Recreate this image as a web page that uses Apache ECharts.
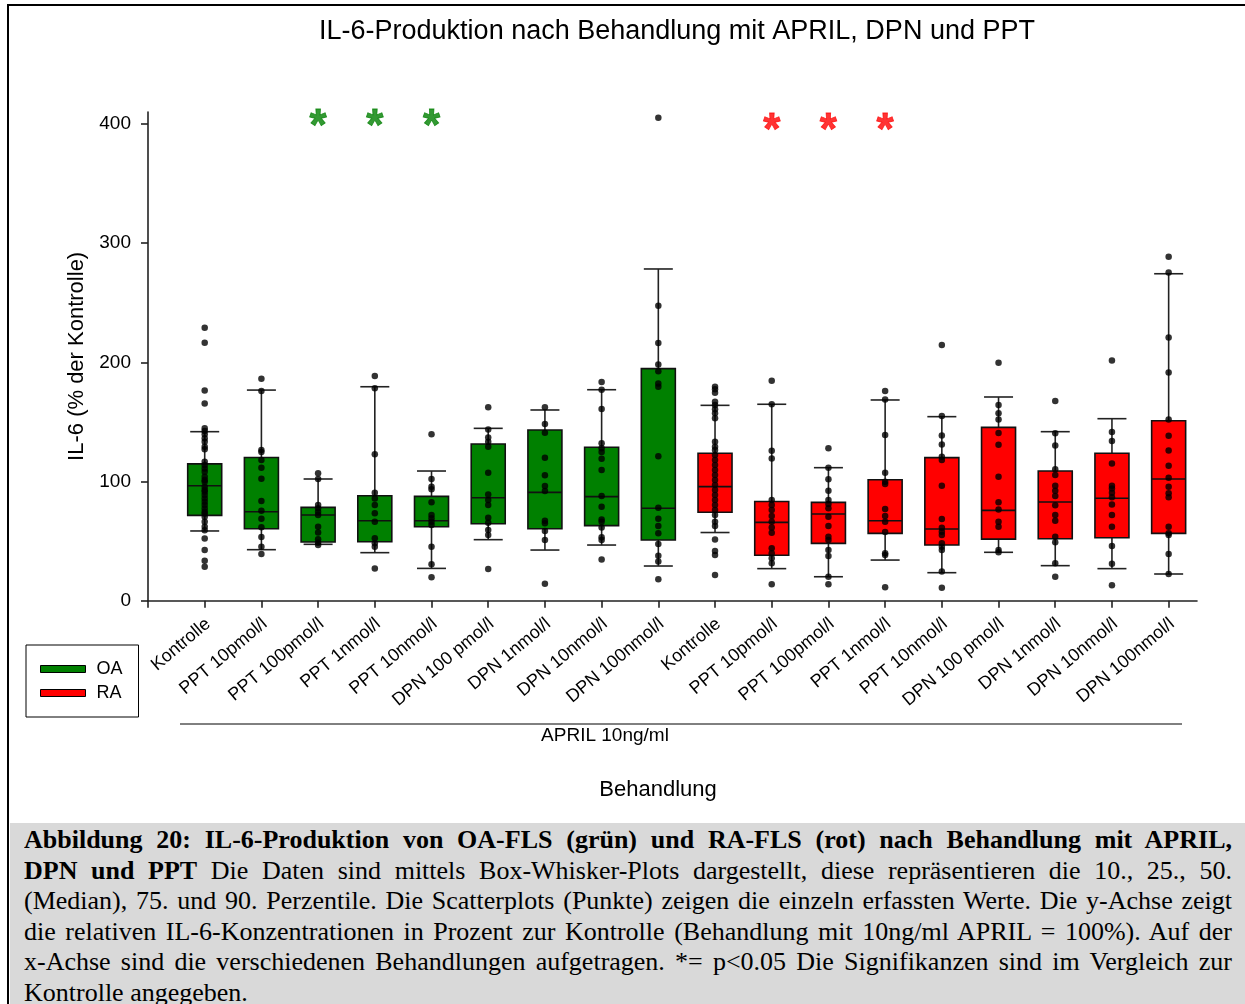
<!DOCTYPE html>
<html>
<head>
<meta charset="utf-8">
<script src="https://cdn.jsdelivr.net/npm/echarts@6/dist/echarts.min.js"></script>
<style>
  html, body { margin: 0; padding: 0; background: #fff; }
  #page { position: relative; width: 1245px; height: 1004px; overflow: hidden; }
  #chart { position: absolute; left: 0; top: 0; width: 1245px; height: 823px; }
  #frame { position: absolute; left: 7px; top: 4px; right: -20px; bottom: -20px;
           border-left: 2.5px solid #000; border-top: 2.5px solid #000; pointer-events: none; }
  #caption { position: absolute; left: 9.5px; top: 823px; width: 1236px; height: 181px; background: #d9d9d9; }
  .cl { position: absolute; left: 14.5px; font-family: "Liberation Serif", "Times New Roman", serif;
        font-size: 25px; line-height: 30px; color: #000; white-space: nowrap;
        text-align: justify; text-align-last: justify; transform-origin: 0 0; }
  .cl.last { text-align-last: left; }
</style>
</head>
<body>
<div id="page">
  <div id="chart"></div>
  <div id="caption"></div>
  <div id="frame"></div>
</div>
<script>
// Treatment groups (same sequence for OA and RA)
const groupLabels = ['Kontrolle', 'PPT 10pmol/l', 'PPT 100pmol/l', 'PPT 1nmol/l', 'PPT 10nmol/l',
                     'DPN 100 pmol/l', 'DPN 1nmol/l', 'DPN 10nmol/l', 'DPN 100nmol/l'];
const categories = groupLabels.concat(groupLabels);

// Box statistics per group: [10th, 25th, median, 75th, 90th percentile]
const oaStats = [
  [58.5, 71.6, 96.5, 114.8, 141.8],
  [42.8, 60.4, 74.6, 120.2, 176.7],
  [47.3, 49.2, 71.9, 78.3, 102.1],
  [40.3, 49.5, 67.1, 88.1, 179.5],
  [27.1, 62.1, 67.1, 87.5, 108.8],
  [51.2, 64.6, 86.4, 131.5, 144.6],
  [42.5, 60.4, 90.9, 143.2, 160.0],
  [46.7, 63.0, 87.3, 128.7, 177.0],
  [29.1, 50.9, 77.5, 194.7, 278.3]
];
const raStats = [
  [57.2, 74.2, 95.7, 123.7, 163.9],
  [26.9, 38.1, 65.7, 83.2, 164.8],
  [20.1, 48.1, 72.7, 82.5, 111.6],
  [34.1, 56.5, 67.1, 101.5, 168.4],
  [23.5, 46.7, 60.2, 120.0, 154.4],
  [40.6, 51.7, 75.8, 145.4, 170.9],
  [29.4, 52.0, 82.8, 108.8, 141.8],
  [26.9, 52.8, 85.9, 123.7, 152.7],
  [22.4, 56.5, 102.1, 151.0, 274.3]
];

// Individual measurements per group
const oaPoints = [
  [229.0, 216.4, 176.4, 165.5, 144.6, 142.4, 139.6, 136.2, 133.4, 129.2, 127.0, 116.6, 113.8, 111.0, 108.2,
   104.0, 101.2, 99.8, 95.6, 92.8, 91.4, 88.6, 85.8, 83.0, 80.2, 77.4, 74.6, 73.2, 70.4, 66.2, 62.0, 59.2,
   52.2, 42.5, 33.6, 28.5],
  [186.3, 175.9, 126.4, 124.7, 118.0, 111.6, 102.4, 83.6, 75.5, 68.8, 61.6, 53.5, 45.3, 39.2],
  [106.9, 102.1, 80.3, 77.5, 74.7, 71.9, 62.1, 57.3, 51.5, 48.7, 46.7],
  [188.5, 178.2, 122.8, 90.6, 85.8, 80.3, 73.3, 66.3, 52.3, 48.1, 45.3, 27.1],
  [139.6, 102.1, 95.7, 93.4, 82.5, 71.9, 69.1, 66.3, 63.5, 45.3, 30.5, 19.6],
  [162.2, 143.7, 137.0, 133.4, 129.2, 107.4, 89.2, 84.5, 80.3, 69.6, 65.4, 59.3, 55.1, 26.6],
  [162.2, 148.2, 140.9, 120.0, 105.2, 96.2, 92.0, 67.1, 64.9, 58.5, 51.0, 14.3],
  [183.4, 177.0, 160.8, 132.0, 127.8, 124.7, 119.1, 109.6, 87.8, 78.9, 68.2, 66.3, 61.5, 53.2, 51.0, 34.5],
  [405.2, 247.5, 216.2, 198.2, 192.4, 182.3, 179.5, 121.1, 78.0, 68.8, 62.7, 56.5, 47.6, 37.8, 32.8, 18.0]
];
const raPoints = [
  [179.6, 177.3, 174.5, 167.0, 164.2, 160.6, 157.2, 153.0, 133.4, 129.2, 126.4, 122.2, 118.0, 113.8, 109.6,
   105.4, 101.2, 97.0, 92.8, 88.6, 84.4, 80.2, 76.0, 71.8, 66.3, 62.6, 51.4, 41.6, 38.3, 21.5],
  [184.6, 164.8, 125.9, 119.2, 84.5, 80.3, 76.1, 71.0, 66.3, 61.5, 57.1, 44.0, 39.8, 35.6, 31.4, 13.8],
  [127.9, 111.6, 101.8, 92.3, 84.5, 81.1, 77.5, 70.5, 62.7, 53.7, 51.0, 42.6, 37.5, 20.1, 13.8],
  [175.9, 168.9, 139.0, 107.4, 99.8, 97.9, 76.9, 71.0, 66.3, 57.6, 39.8, 38.4, 11.2],
  [214.5, 154.9, 138.7, 131.1, 120.8, 118.0, 96.4, 68.5, 61.3, 57.9, 55.1, 48.1, 45.3, 42.5, 24.4, 10.9],
  [199.6, 164.1, 157.2, 152.1, 140.7, 130.9, 104.0, 82.5, 76.6, 66.3, 62.1, 42.5, 40.6],
  [167.5, 140.4, 130.3, 110.2, 105.4, 96.5, 92.3, 87.8, 80.0, 71.9, 67.1, 53.7, 49.0, 31.4, 20.1],
  [201.6, 141.5, 133.9, 115.2, 96.5, 94.2, 90.6, 86.7, 80.8, 71.9, 62.1, 45.9, 31.1, 12.9],
  [288.6, 275.4, 220.9, 191.5, 152.1, 138.4, 126.1, 113.3, 103.2, 95.7, 90.1, 86.7, 62.1, 56.5, 55.1, 39.2, 22.4]
];

// Groups significantly different from their control (p < 0.05), index within group list
const oaSignificant = [2, 3, 4];
const raSignificant = [1, 2, 3];

const yTicks = [0, 100, 200, 300, 400];

const captionLines = [
  '<b>Abbildung 20: IL-6-Produktion von OA-FLS (grün) und RA-FLS (rot) nach Behandlung mit APRIL,</b>',
  '<b>DPN und PPT</b> Die Daten sind mittels Box-Whisker-Plots dargestellt, diese repräsentieren die 10., 25., 50.',
  '(Median), 75. und 90. Perzentile. Die Scatterplots (Punkte) zeigen die einzeln erfassten Werte. Die y-Achse zeigt',
  'die relativen IL-6-Konzentrationen in Prozent zur Kontrolle (Behandlung mit 10ng/ml APRIL = 100%). Auf der',
  'x-Achse sind die verschiedenen Behandlungen aufgetragen. *= p&lt;0.05 Die Signifikanzen sind im Vergleich zur',
  'Kontrolle angegeben.'
];

// ---- caption block ----
(function () {
  const box = document.getElementById('caption');
  const scale = 1.04, width = 1208;
  captionLines.forEach((html, i) => {
    const d = document.createElement('div');
    d.className = 'cl' + (i === captionLines.length - 1 ? ' last' : '');
    d.style.top = (2 + 30.6 * i) + 'px';
    d.style.width = (width / scale) + 'px';
    d.style.transform = 'scaleX(' + scale + ')';
    d.innerHTML = html;
    box.appendChild(d);
  });
})();

// ---- chart ----
const GREEN = '#008000', RED = '#ff0000';
const FONT = '"Liberation Sans", Arial, sans-serif';
const nGroup = groupLabels.length;

function boxData(stats, offset) {
  return stats.map((s, i) => [i + offset].concat(s));
}
function pointData(lists, offset) {
  const out = [];
  lists.forEach((vals, i) => vals.forEach(v => out.push([i + offset, v])));
  return out;
}

function renderBox(params, api) {
  const x = api.value(0);
  const p10 = api.value(1), p25 = api.value(2), med = api.value(3), p75 = api.value(4), p90 = api.value(5);
  const cx = api.coord([x, 0])[0];
  const y = v => api.coord([x, v])[1];
  const half = 17, cap = 14.5;
  const line = { stroke: '#222', lineWidth: 1.6 };
  return {
    type: 'group',
    children: [
      { type: 'line', shape: { x1: cx, y1: y(p90), x2: cx, y2: y(p75) }, style: line },
      { type: 'line', shape: { x1: cx, y1: y(p25), x2: cx, y2: y(p10) }, style: line },
      { type: 'line', shape: { x1: cx - cap, y1: y(p90), x2: cx + cap, y2: y(p90) }, style: line },
      { type: 'line', shape: { x1: cx - cap, y1: y(p10), x2: cx + cap, y2: y(p10) }, style: line },
      { type: 'rect', shape: { x: cx - half, y: y(p75), width: 2 * half, height: y(p25) - y(p75) },
        style: { fill: api.visual('color'), stroke: '#111', lineWidth: 1.6 } },
      { type: 'line', shape: { x1: cx - half, y1: y(med), x2: cx + half, y2: y(med) },
        style: { stroke: '#111', lineWidth: 1.6 } }
    ]
  };
}

function starSeries(idx, offset, color, level) {
  return {
    type: 'scatter', symbolSize: 0, silent: true, z: 5,
    data: idx.map(i => [i + offset, level]),
    label: { show: true, position: 'inside', formatter: '*', color: color,
             fontSize: 44, fontWeight: 'bold', fontFamily: FONT,
             textBorderColor: color, textBorderWidth: 0.8 }
  };
}

const chart = echarts.init(document.getElementById('chart'), null, { renderer: 'canvas' });
const catIdx = categories.map((_, i) => i);
// rotated labels end slightly to the right of their tick
const labelAnchors = catIdx.map(i => i + 0.06);

chart.setOption({
  animation: false,
  backgroundColor: 'transparent',
  title: {
    text: 'IL-6-Produktion nach Behandlung mit APRIL, DPN und PPT',
    left: 672, top: 13, textAlign: 'center',
    textStyle: { fontFamily: FONT, fontSize: 27, fontWeight: 'normal', color: '#000' }
  },
  legend: {
    data: ['OA', 'RA'],
    orient: 'vertical', left: 26, top: 645,
    backgroundColor: '#fff', borderColor: '#000', borderWidth: 1,
    padding: [15, 16, 15, 14], itemGap: 6,
    itemWidth: 45, itemHeight: 7, icon: 'rect',
    itemStyle: { borderColor: '#000', borderWidth: 1 },
    textStyle: { fontFamily: FONT, fontSize: 18, color: '#000', lineHeight: 18, padding: [0, 0, 0, 6] }
  },
  grid: { left: 148, right: 48, top: 112, bottom: 222.3, containLabel: false },
  xAxis: {
    type: 'value', min: -1, max: 17.5, interval: 1,
    name: 'Behandlung', nameLocation: 'middle', nameGap: 178,
    nameTextStyle: { fontFamily: FONT, fontSize: 22, color: '#000', padding: [0, 29, 0, 0] },
    axisLine: { show: true, onZero: false, lineStyle: { color: '#222', width: 1.6 } },
    axisTick: { show: true, length: 7, inside: false, customValues: [-1].concat(catIdx),
                lineStyle: { color: '#222', width: 1.6 } },
    axisLabel: {
      customValues: labelAnchors, rotate: 40, margin: 21, interval: 0,
      fontFamily: FONT, fontSize: 18, color: '#000',
      formatter: v => {
        const i = Math.round(v);
        return (i >= 0 && i < categories.length) ? categories[i] : '';
      }
    },
    splitLine: { show: false }
  },
  yAxis: {
    type: 'value', min: 0, max: 410, interval: 100,
    name: 'IL-6 (% der Kontrolle)', nameLocation: 'middle', nameGap: 52, nameRotate: 90,
    nameTextStyle: { fontFamily: FONT, fontSize: 22, color: '#000' },
    axisLine: { show: true, onZero: false, lineStyle: { color: '#222', width: 1.6 } },
    axisTick: { show: true, length: 7, inside: false, customValues: yTicks,
                lineStyle: { color: '#222', width: 1.6 } },
    axisLabel: { customValues: yTicks, margin: 17, fontFamily: FONT, fontSize: 19, color: '#000',
                 formatter: v => (v % 100 === 0 ? String(v) : '') },
    splitLine: { show: false }
  },
  graphic: [
    { type: 'line', shape: { x1: 180, y1: 724, x2: 1182, y2: 724 }, style: { stroke: '#000', lineWidth: 1 } },
    { type: 'text', x: 605, y: 736,
      style: { text: 'APRIL 10ng/ml', fontFamily: FONT, fontSize: 19, fill: '#000',
               textAlign: 'center', textVerticalAlign: 'middle' } }
  ],
  series: [
    { name: 'OA', type: 'custom', renderItem: renderBox, itemStyle: { color: GREEN },
      encode: { x: 0, y: [1, 2, 3, 4, 5] }, data: boxData(oaStats, 0), z: 2 },
    { name: 'RA', type: 'custom', renderItem: renderBox, itemStyle: { color: RED },
      encode: { x: 0, y: [1, 2, 3, 4, 5] }, data: boxData(raStats, nGroup), z: 2 },
    { name: 'Werte', type: 'scatter', symbol: 'circle', symbolSize: 6.5, z: 4,
      itemStyle: { color: '#000' },
      data: pointData(oaPoints, 0).concat(pointData(raPoints, nGroup)) },
    starSeries(oaSignificant, 0, GREEN, 397),
    starSeries(raSignificant, nGroup, RED, 393.5)
  ]
});
</script>
</body>
</html>
